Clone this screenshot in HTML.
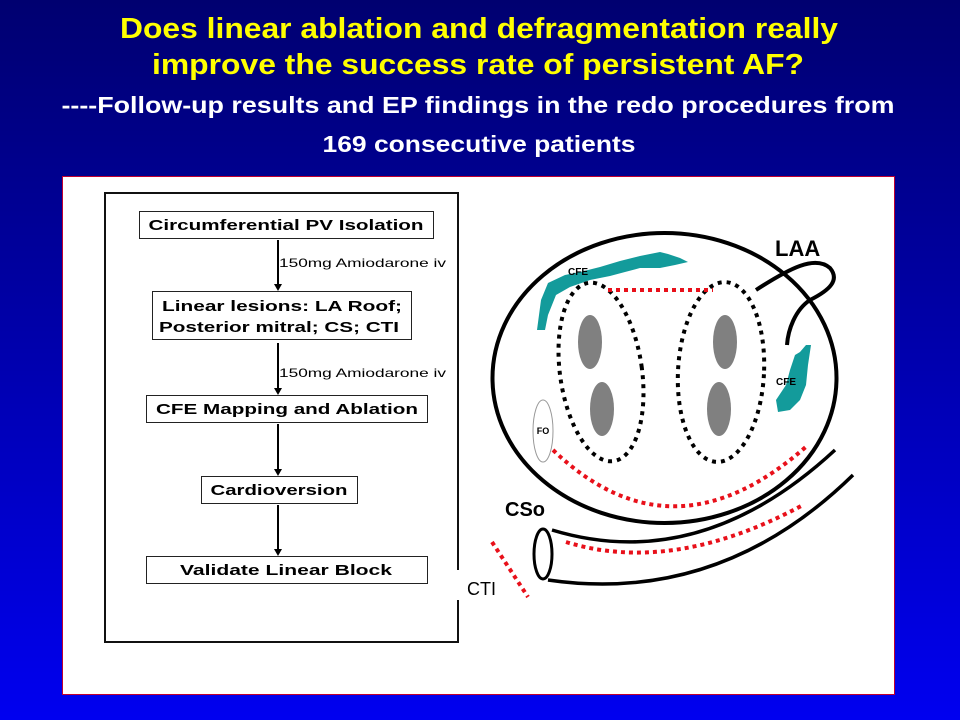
<!DOCTYPE html>
<html><head><meta charset="utf-8"><style>
html,body{margin:0;padding:0;}
body{width:960px;height:720px;overflow:hidden;background:linear-gradient(to bottom,#000070 0%,#0000a8 45%,#0000f0 100%);}
svg{display:block;font-family:"Liberation Sans",sans-serif;}
</style></head><body>
<svg width="960" height="720" xmlns="http://www.w3.org/2000/svg">
<g font-weight="bold" text-anchor="middle">
<text x="479" y="38" font-size="29" fill="#ffff00" textLength="718" lengthAdjust="spacingAndGlyphs">Does linear ablation and defragmentation really</text>
<text x="478" y="74" font-size="29" fill="#ffff00" textLength="652" lengthAdjust="spacingAndGlyphs">improve the success rate of persistent AF?</text>
<text x="478" y="113" font-size="23" fill="#ffffff" textLength="833" lengthAdjust="spacingAndGlyphs">----Follow-up results and EP findings in the redo procedures from</text>
<text x="479" y="152" font-size="23" fill="#ffffff" textLength="313" lengthAdjust="spacingAndGlyphs">169 consecutive patients</text>
</g>
<rect x="62.5" y="176.5" width="832" height="518" fill="#fff" stroke="#c00030" stroke-width="1"/>
<rect x="105" y="193" width="353" height="449" fill="none" stroke="#111" stroke-width="2"/>
<rect x="455" y="570" width="6" height="30" fill="#fff"/>
<g fill="#fff" stroke="#222" stroke-width="1">
<rect x="139.5" y="211.5" width="294" height="27"/>
<rect x="152.5" y="291.5" width="259" height="48"/>
<rect x="146.5" y="395.5" width="281" height="27"/>
<rect x="201.5" y="476.5" width="156" height="27"/>
<rect x="146.5" y="556.5" width="281" height="27"/>
</g>
<g font-weight="bold" font-size="15" fill="#000" text-anchor="middle">
<text x="286" y="230" textLength="275" lengthAdjust="spacingAndGlyphs">Circumferential PV Isolation</text>
<text x="282" y="311" textLength="240" lengthAdjust="spacingAndGlyphs">Linear lesions: LA Roof;</text>
<text x="279" y="332" textLength="240" lengthAdjust="spacingAndGlyphs">Posterior mitral; CS; CTI</text>
<text x="287" y="414" textLength="262" lengthAdjust="spacingAndGlyphs">CFE Mapping and Ablation</text>
<text x="279" y="495" textLength="137" lengthAdjust="spacingAndGlyphs">Cardioversion</text>
<text x="286" y="575" textLength="212" lengthAdjust="spacingAndGlyphs">Validate  Linear Block</text>
</g>
<g stroke="#000" stroke-width="2">
<line x1="278" y1="240" x2="278" y2="285"/>
<line x1="278" y1="343" x2="278" y2="389"/>
<line x1="278" y1="424" x2="278" y2="470"/>
<line x1="278" y1="505" x2="278" y2="550"/>
</g>
<g fill="#000">
<path d="M274,284 L282,284 L278,291Z"/><path d="M274,388 L282,388 L278,395Z"/>
<path d="M274,469 L282,469 L278,476Z"/><path d="M274,549 L282,549 L278,556Z"/>
</g>
<g font-size="12" fill="#000">
<text x="279" y="267" textLength="167" lengthAdjust="spacingAndGlyphs">150mg Amiodarone iv</text>
<text x="279" y="377" textLength="167" lengthAdjust="spacingAndGlyphs">150mg Amiodarone iv</text>
</g>
<path d="M537,330 L541,300 L548,283 L565,275 L580,272 L600,267 L620,261 L640,256 L660,252 L668,254 L680,258 L688,262 L675,265 L660,268 L640,268 L625,272 L610,276 L590,280 L570,287 L556,295 L548,315 L545,330Z" fill="#139b9b"/>
<path d="M806,345 L811,345 L808,365 L806,385 L800,400 L790,410 L778,412 L776,400 L786,385 L790,370 L795,355 L800,352Z" fill="#139b9b"/>
<ellipse cx="664.5" cy="378" rx="172" ry="145" fill="none" stroke="#000" stroke-width="4"/>
<path d="M756,290 C790,268 815,255 830,268 C840,280 830,290 810,300 C795,310 788,330 787,345" fill="none" stroke="#000" stroke-width="4"/>
<g fill="#808080">
<ellipse cx="590" cy="342" rx="12" ry="27"/><ellipse cx="602" cy="409" rx="12" ry="27"/>
<ellipse cx="725" cy="342" rx="12" ry="27"/><ellipse cx="719" cy="409" rx="12" ry="27"/>
</g>
<g fill="none" stroke="#000" stroke-width="4" stroke-dasharray="4 5">
<ellipse cx="601" cy="372" rx="41" ry="90" transform="rotate(-8 601 372)"/>
<ellipse cx="721" cy="372" rx="43" ry="90" transform="rotate(3 721 372)"/>
</g>
<g fill="none" stroke="#e8101a" stroke-width="4" stroke-dasharray="4 4">
<line x1="608" y1="290" x2="713" y2="290"/>
<path d="M553,450 Q673,565 808,445"/>
<path d="M566,542 Q673,575 803,505"/>
<line x1="492" y1="542" x2="528" y2="597"/>
</g>
<ellipse cx="543" cy="431" rx="10" ry="31" fill="#fff" stroke="#999" stroke-width="1"/>
<text x="543" y="434" font-size="9" font-weight="bold" text-anchor="middle">FO</text>
<path d="M552,530 Q700,575 835,450" fill="none" stroke="#000" stroke-width="3.5"/>
<path d="M548,580 Q720,605 853,475" fill="none" stroke="#000" stroke-width="3.5"/>
<ellipse cx="543" cy="554" rx="9" ry="25" fill="#fff" stroke="#000" stroke-width="3"/>
<g font-weight="bold" fill="#000">
<text x="568" y="275" font-size="10">CFE</text>
<text x="776" y="385" font-size="10">CFE</text>
<text x="775" y="256" font-size="22">LAA</text>
<text x="505" y="516" font-size="20">CSo</text>
</g>
<text x="467" y="595" font-size="18" fill="#000">CTI</text>
</svg>
</body></html>
